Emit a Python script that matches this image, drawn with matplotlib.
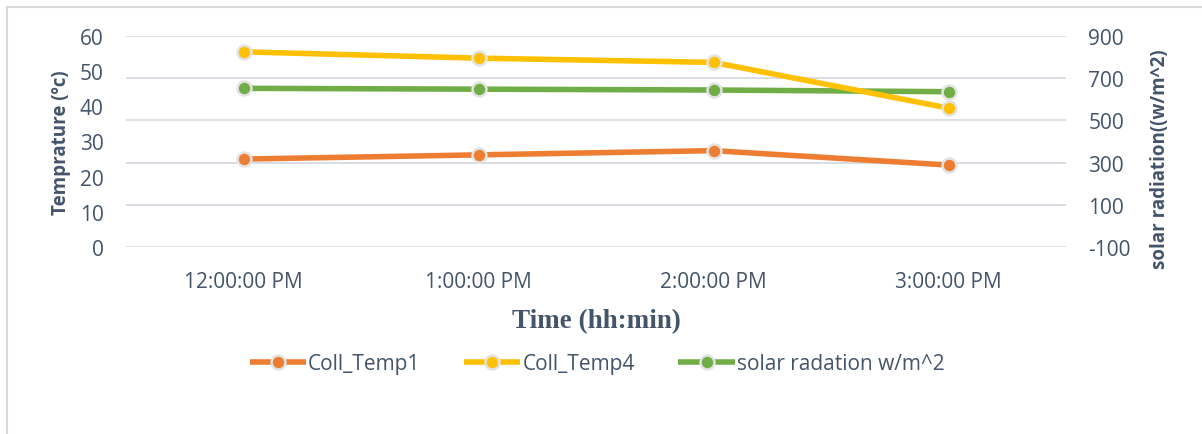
import matplotlib
matplotlib.use('Agg')
import matplotlib.pyplot as plt
from matplotlib.lines import Line2D

### Dados
horas        = ['12:00:00 PM', '1:00:00 PM', '2:00:00 PM', '3:00:00 PM']
coll_temp1   = [25.0, 26.2, 27.4, 23.3]
coll_temp4   = [55.5, 53.7, 52.5, 39.5]
radiacao     = [652, 648, 644, 636]

cor_texto = '#44546A'
cor_grade = '#D9DDE3'
plt.rcParams['font.family'] = ['Open Sans', 'DejaVu Sans']
plt.rcParams['axes.unicode_minus'] = False

W, H = 1202, 435
fig = plt.figure(figsize=(W / 100, H / 100), dpi=100)
ax = fig.add_axes([126 / W, 1 - 248 / H, 940 / W, 211 / H])
ax2 = ax.twinx()

x = range(len(horas))
estilo = dict(lw=4, marker='o', ms=10, mew=1.8, mec='#E3E3E3', solid_capstyle='butt')
l1, = ax.plot(x, coll_temp1, color='#ED7D31', label='Coll_Temp1', zorder=3, **estilo)
l2, = ax.plot(x, coll_temp4, color='#FFC000', label='Coll_Temp4', zorder=3, **estilo)
l3, = ax2.plot(x, radiacao, color='#70AD47', label='solar radation w/m^2', zorder=3, **estilo)
# linha amarela por cima da verde (como no original)
ax.set_zorder(ax2.get_zorder() + 1)
ax.patch.set_visible(False)

ax.set_xlim(-0.5, 3.5)
ax.set_ylim(0, 60)
ax.set_yticks(range(0, 61, 10))
ax2.set_ylim(-100, 900)
ax2.set_yticks(range(-100, 901, 200))
ax.set_xticks(list(x))
ax.set_xticklabels(horas)
ax2.grid(axis='y', color=cor_grade, lw=1.4)
ax2.set_axisbelow(True)

for a in (ax, ax2):
    for s in a.spines.values():
        s.set_visible(False)
    a.tick_params(length=0, labelsize=15, labelcolor=cor_texto)
ax.tick_params(axis='y', pad=16)
ax2.tick_params(axis='y', pad=16)
ax.tick_params(axis='x', pad=17)

ax.set_ylabel('Temprature (ºc)', fontsize=13.5, fontweight='bold', color=cor_texto)
ax.yaxis.set_label_coords(-0.059, 0.5)
ax2.set_ylabel('solar radiation((w/m^2)', fontsize=13.5, fontweight='bold', color=cor_texto)
ax2.yaxis.set_label_coords(1.089, 0.42)
fig.text(596 / W, 1 - 322 / H, 'Time (hh:min)', ha='center', va='center', fontsize=19.5,
         fontweight='bold', family='Liberation Serif', color=cor_texto)

fig.legend(handles=[l1, l2, l3], loc='center', bbox_to_anchor=(597 / W, 1 - 365 / H), ncol=3,
           frameon=False, fontsize=15, handlelength=2.7, handletextpad=0.1, columnspacing=2.1,
           labelcolor=cor_texto)

# borda da área do gráfico
fig.add_artist(Line2D([6.5 / W, 6.5 / W], [0, 1 - 8 / H], color='#D9D9D9', lw=1.5))
fig.add_artist(Line2D([6.5 / W, 1], [1 - 8 / H, 1 - 8 / H], color='#D9D9D9', lw=1.5))

fig.savefig('out.png', dpi=100)
